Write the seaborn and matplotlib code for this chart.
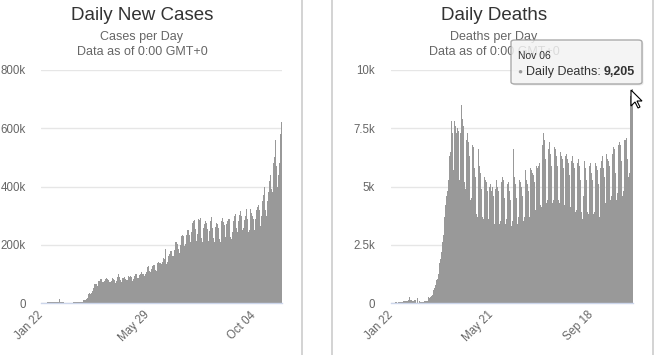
import matplotlib
matplotlib.use("Agg")
import matplotlib.pyplot as plt
from matplotlib.patches import FancyBboxPatch, Polygon
from matplotlib.lines import Line2D
from matplotlib.text import Annotation
import seaborn as sns
import pandas as pd

# daily values from Jan 22 to Nov 06
start_day = "2020-01-22"

# new cases per day, in thousands
cases_k = [
    0.6, 0.1, 0.3, 0.7, 0.7, 0.8, 1.5, 1.8, 2.1, 2.0,
    2.6, 2.8, 3.2, 3.9, 3.7, 3.2, 3.4, 2.7, 3.0, 2.5, 2.1, 2.0, 15.2, 5.1, 2.7,
    2.1, 2.0, 1.9, 0.6, 0.6, 1.0, 1.0, 0.8, 0.6, 0.9, 0.9, 1.3, 1.4, 2.0,
    1.8, 2.2, 2.5, 2.5, 2.8, 3.9, 4.0, 4.0, 3.8, 4.4, 4.9, 7.5, 10.4, 11.4, 11.6, 14.9,
    16.6, 21.8, 29.8, 33.5, 32.6, 34.5, 41.6, 43.0, 50.6, 63.6, 64.4, 65.1, 59.0, 62.0, 74.0,
    77, 81, 82, 83, 72, 72, 75, 81, 87, 89, 82, 79, 72, 71, 77,
    82, 86, 84, 79, 70, 76, 78, 90, 99, 88, 80, 73, 81, 85, 86,
    90, 84, 80, 79, 79, 91, 89, 94, 88, 77, 77, 82, 91, 98, 98, 91,
    86, 87, 96, 98, 106, 103, 100, 98, 93, 99, 106, 117, 124, 127, 109,
    105, 118, 123, 126, 129, 131, 112, 109, 124, 136, 140, 137, 137, 134, 131,
    142, 153, 151, 184, 164, 134, 142, 162, 169, 180, 195, 179, 162, 161, 182,
    209, 211, 209, 201, 184, 173, 200, 213, 229, 235, 229, 196, 203, 222, 233, 249,
    252, 232, 211, 218, 244, 276, 281, 284, 255, 211, 214, 238, 288, 286, 291,
    262, 222, 209, 259, 271, 281, 288, 276, 253, 212, 246, 280, 281, 295, 256, 224,
    208, 262, 278, 274, 270, 259, 221, 210, 254, 282, 291, 277, 269, 246, 225,
    270, 280, 290, 290, 263, 227, 220, 244, 283, 298, 308, 306, 256, 244, 283,
    302, 318, 317, 300, 250, 256, 284, 300, 300, 323, 287, 245, 249, 300, 324,
    310, 300, 290, 250, 240, 290, 320, 330, 335, 320, 270, 265, 300, 350, 370, 400,
    365, 320, 300, 350, 380, 420, 460, 440, 390, 380, 480, 500, 550, 560, 470,
    400, 440, 480, 560, 580, 620,
]

# deaths per day
deaths = [
    17, 1, 8, 16, 14, 26, 49, 2, 38, 43,
    46, 45, 57, 64, 66, 73, 73, 86, 89, 97, 108, 97, 254, 143, 143,
    106, 98, 139, 115, 125, 4, 207, 11, 158, 79, 62, 44, 47, 35,
    70, 68, 75, 95, 105, 250, 210, 230, 270, 320, 360, 550, 430, 650, 760, 1000,
    1050, 1250, 1400, 1700, 1900, 2200, 2600, 2900, 3300, 3700, 4200, 4600, 4800, 5300, 5900,
    6300, 6500, 7800, 7300, 5700, 5900, 7800, 7600, 7300, 7500, 7400, 5800, 5300, 7300, 8500,
    7900, 7600, 7300, 5200, 4900, 7000, 7300, 6900, 6400, 6300, 4400, 4500, 6800, 6700, 6200,
    5800, 5400, 3800, 3700, 6600, 6100, 5900, 5600, 4900, 3700, 3600, 5700, 5400, 5300, 5200, 4800,
    3600, 3500, 5000, 5100, 4800, 5000, 4600, 3300, 3400, 4900, 5300, 5000, 4800, 4500, 3400,
    3500, 5200, 5400, 5300, 5000, 4500, 3400, 3600, 5100, 5200, 5000, 4800, 4400, 3300, 3500,
    6600, 5400, 5200, 5100, 4500, 3400, 3700, 5300, 5400, 5200, 5000, 4600, 3500, 3700, 5500,
    5700, 5300, 5100, 4800, 3700, 3900, 5800, 5700, 5600, 5500, 5200, 3900, 4000, 5900, 5800, 5900,
    6000, 5600, 4200, 4100, 6800, 7300, 7000, 6600, 6200, 4300, 4400, 6600, 6900, 6700, 6400,
    5900, 4300, 4400, 6700, 6900, 6600, 6300, 5900, 4400, 4300, 6400, 6500, 6300, 6200, 5800, 4200,
    4300, 6300, 6400, 6200, 6000, 5500, 4000, 4100, 6100, 6300, 6000, 5800, 5300, 3900, 4000,
    6000, 6200, 5900, 5700, 5300, 3900, 3600, 4600, 6100, 6000, 5800, 5300, 3900, 3800, 5900,
    6100, 6000, 5600, 5300, 3800, 3900, 6200, 6000, 5900, 5700, 5100, 3700, 3800, 5800, 6100,
    6300, 5800, 5400, 3800, 4300, 6400, 6200, 6100, 5900, 5200, 4400, 4600, 6400, 6700, 6600, 6300,
    5600, 4400, 4700, 6800, 6900, 6700, 6800, 6100, 4600, 4800, 7000, 7200, 7000, 7100, 6200,
    5400, 5600, 8200, 8900, 8700, 9205,
]

cases_xticks = ["Jan 22", "May 29", "Oct 04"]
deaths_xticks = ["Jan 22", "May 21", "Sep 18"]
cases_yticks = [0, 200, 400, 600, 800]
cases_ylabels = ["0", "200k", "400k", "600k", "800k"]
deaths_yticks = [0, 2500, 5000, 7500, 10000]
deaths_ylabels = ["0", "2.5k", "5k", "7.5k", "10k"]

days = pd.date_range(start_day, periods=len(cases_k), freq="D")
df = pd.DataFrame({
    "day": range(len(days)),
    "label": days.strftime("%b %d"),
    "cases": cases_k,
    "deaths": deaths,
})

sns.set_style("white")
plt.rcParams["font.family"] = ["Liberation Sans", "DejaVu Sans"]

W, H = 660, 355
fig = plt.figure(figsize=(W / 100, H / 100), dpi=100)


def px(x, y):
    # pixel position (from top-left) -> figure fraction
    return x / W, (H - y) / H


ax1 = fig.add_axes([41 / W, 52 / H, 241 / W, 233 / H])
ax2 = fig.add_axes([391 / W, 52 / H, 242 / W, 233 / H])

panels = [
    (ax1, "cases", cases_xticks, cases_yticks, cases_ylabels, 10.8),
    (ax2, "deaths", deaths_xticks, deaths_yticks, deaths_ylabels, 11.5),
]
for ax, col, xt, yt, yl, ypad in panels:
    sns.barplot(data=df, x="day", y=col, native_scale=True, color="#999999",
                saturation=1, width=1.0, errorbar=None, linewidth=0, ax=ax)
    ax.set_xlim(-0.5, len(df) - 0.5)
    ax.set_ylim(yt[0], yt[-1])
    ax.set_yticks(yt)
    ax.set_yticklabels(yl)
    pos = [df.index[df["label"] == t][0] for t in xt]
    ax.set_xticks(pos)
    ax.set_xticklabels(xt, rotation=45, ha="right", va="center", rotation_mode="anchor")
    ax.set_xlabel("")
    ax.set_ylabel("")
    ax.grid(axis="y", color="#e6e6e6", linewidth=1)
    ax.set_axisbelow(True)
    for s in ["top", "right", "left"]:
        ax.spines[s].set_visible(False)
    ax.spines["bottom"].set_color("#ccd6eb")
    ax.spines["bottom"].set_linewidth(1)
    ax.tick_params(axis="y", length=0, pad=ypad, labelsize=8.3, labelcolor="#666666")
    ax.tick_params(axis="x", length=0, pad=7.5, labelsize=8.3, labelcolor="#666666")

# titles
for cx, title, sub in [(142, "Daily New Cases", "Cases per Day"),
                       (494, "Daily Deaths", "Deaths per Day")]:
    fig.text(*px(cx, 15), title, ha="center", va="center", fontsize=13.5, color="#333333")
    fig.text(*px(cx, 37), sub, ha="center", va="center", fontsize=9, color="#666666")
    fig.text(*px(cx, 52), "Data as of 0:00 GMT+0", ha="center", va="center",
             fontsize=9, color="#666666")

# card borders
for x in [301.5, 332, 653]:
    fig.add_artist(Line2D([x / W, x / W], [0, 1], color="#cccccc", linewidth=1.2))

# tooltip for the last day
x0, y0 = px(511, 84)
x1, y1 = px(642, 40)
shadow = FancyBboxPatch((x0 + 1.5 / W, y0 - 1.5 / H), x1 - x0, y1 - y0,
                        boxstyle="round,pad=0,rounding_size=0.006",
                        transform=fig.transFigure, facecolor="#000000", alpha=0.08,
                        edgecolor="none", zorder=5)
box = FancyBboxPatch((x0, y0), x1 - x0, y1 - y0,
                     boxstyle="round,pad=0,rounding_size=0.006",
                     transform=fig.transFigure, facecolor="#f7f7f7", alpha=0.82,
                     edgecolor="#999999", linewidth=1, zorder=6)
fig.add_artist(shadow)
fig.add_artist(box)
fig.text(*px(518, 56), df["label"].iloc[-1], ha="left", va="center", fontsize=7.5,
         color="#333333", zorder=7)
fig.text(*px(520, 72), "\u25cf", ha="center", va="center", fontsize=6,
         color="#999999", zorder=7)
t1 = fig.text(*px(525.5, 72), "Daily Deaths: ", ha="left", va="center", fontsize=9,
              color="#333333", zorder=7)
fig.add_artist(Annotation(f"{df['deaths'].iloc[-1]:,}", xy=(1, 0), xycoords=t1,
                          ha="left", va="bottom", fontsize=9, fontweight="bold",
                          color="#333333", zorder=7))

# mouse pointer
arrow = [(0, 0), (0, 16), (4, 12), (7, 18), (9, 17), (6, 11), (11, 11)]
cursor = Polygon([px(631 + dx, 90 + dy) for dx, dy in arrow], closed=True,
                 transform=fig.transFigure, facecolor="white", edgecolor="black",
                 linewidth=0.8, zorder=8)
fig.add_artist(cursor)

fig.savefig("out.png", dpi=100)
